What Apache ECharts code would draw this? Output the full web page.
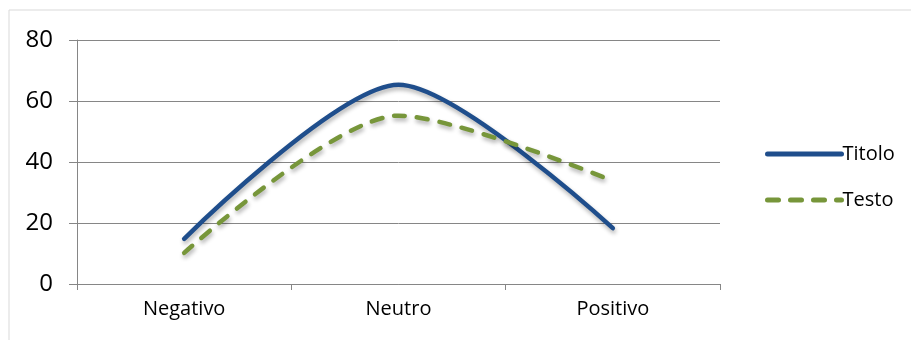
<!DOCTYPE html>
<html>
<head>
<meta charset="utf-8">
<script src="https://cdn.jsdelivr.net/npm/echarts@6/dist/echarts.min.js"></script>
<style>html,body{margin:0;padding:0;background:#fff}#c{width:911px;height:340px}</style>
</head>
<body>
<div id="c"></div>
<script>
const categories = ['Negativo', 'Neutro', 'Positivo'];
const titoloValues = [14.8, 65.3, 18.3];
const testoValues = [10.2, 55.2, 33.8];
const yTicks = [0, 20, 40, 60, 80];

const chart = echarts.init(document.getElementById('c'));
const font = '"Open Sans", "Noto Sans", sans-serif';
chart.setOption({
  animation: false,
  backgroundColor: '#fff',
  textStyle: { fontFamily: font },
  grid: { left: 77, right: 191, top: 40, bottom: 56 },
  graphic: [
    { type: 'line', shape: { x1: 9, y1: 10, x2: 911, y2: 10 }, style: { stroke: '#d9d9d9', lineWidth: 1 } },
    { type: 'line', shape: { x1: 9, y1: 10, x2: 9, y2: 340 }, style: { stroke: '#d9d9d9', lineWidth: 1 } }
  ],
  legend: {
    orient: 'vertical',
    left: 760,
    top: 139,
    itemWidth: 74,
    itemHeight: 14,
    itemGap: 26,
    itemStyle: { opacity: 0 },
    lineStyle: { width: 5 },
    textStyle: { fontSize: 20, color: '#000', fontFamily: font, padding: [0, 0, 0, -4] },
    data: ['Titolo', 'Testo']
  },
  xAxis: {
    type: 'category',
    data: categories,
    boundaryGap: true,
    axisLine: { lineStyle: { color: '#868686', width: 1 } },
    axisTick: { show: true, length: 6, lineStyle: { color: '#868686' } },
    axisLabel: { color: '#000', fontSize: 20, margin: 15, fontFamily: font },
    splitLine: { show: false }
  },
  yAxis: {
    type: 'value',
    min: yTicks[0],
    max: yTicks[yTicks.length - 1],
    interval: 20,
    axisLine: { show: true, lineStyle: { color: '#868686', width: 1 } },
    axisTick: { show: true, length: 8, lineStyle: { color: '#868686' } },
    axisLabel: { color: '#000', fontSize: 24, margin: 24, fontFamily: font },
    splitLine: { show: true, lineStyle: { color: '#868686', width: 1 } }
  },
  series: [
    {
      name: 'Titolo',
      type: 'line',
      data: titoloValues,
      smooth: 0.27,
      symbol: 'none',
      color: '#1F4E8C',
      lineStyle: { color: '#1F4E8C', width: 4.5, cap: 'round', shadowColor: 'rgba(0,0,0,0.3)', shadowBlur: 4, shadowOffsetY: 3, shadowOffsetX: 1 }
    },
    {
      name: 'Testo',
      type: 'line',
      data: testoValues,
      smooth: 0.27,
      symbol: 'none',
      color: '#77963A',
      lineStyle: { color: '#77963A', width: 4.5, type: [11, 12], cap: 'round', shadowColor: 'rgba(0,0,0,0.3)', shadowBlur: 4, shadowOffsetY: 3, shadowOffsetX: 1 }
    }
  ]
});
</script>
</body>
</html>
